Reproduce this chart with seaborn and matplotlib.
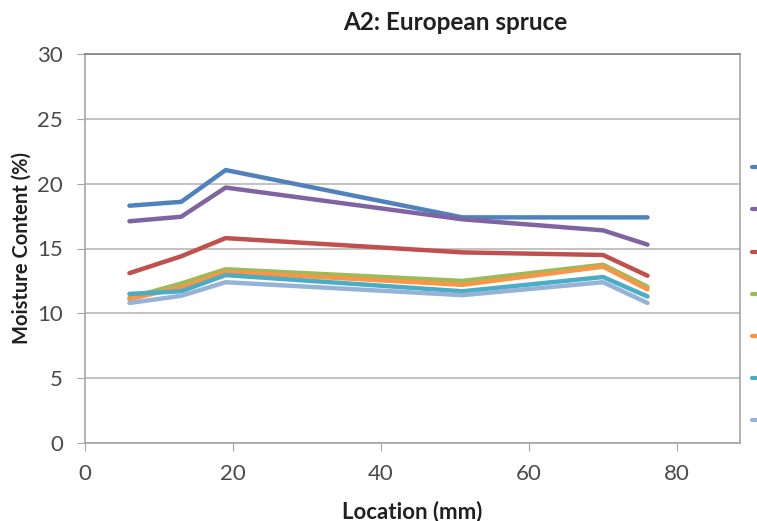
import pandas as pd
import matplotlib
matplotlib.use("Agg")
import matplotlib.pyplot as plt
import seaborn as sns
from matplotlib.lines import Line2D

# measurement locations (mm)
location = [6, 13, 19, 51, 70, 76]

# moisture content (%) per series, legend order top to bottom
s1 = [18.3, 18.6, 21.05, 17.4, 17.4, 17.4]
s2 = [17.1, 17.45, 19.7, 17.25, 16.4, 15.3]
s3 = [13.1, 14.4, 15.8, 14.7, 14.5, 12.9]
s4 = [11.2, 12.3, 13.4, 12.5, 13.75, 12.05]
s5 = [11.1, 12.0, 13.2, 12.2, 13.6, 11.85]
s6 = [11.5, 11.7, 12.95, 11.7, 12.8, 11.3]
s7 = [10.8, 11.35, 12.4, 11.4, 12.4, 10.8]

series = ["s1", "s2", "s3", "s4", "s5", "s6", "s7"]
values = [s1, s2, s3, s4, s5, s6, s7]
colors = ["#4F81BD", "#8064A2", "#C0504D", "#9BBB59", "#F79646", "#4BACC6", "#95B3D7"]

rows = []
for name, vals in zip(series, values):
    for x, y in zip(location, vals):
        rows.append({"series": name, "location": x, "mc": y})
df = pd.DataFrame(rows)

sns.set_style("white")
plt.rcParams["font.family"] = ["Lato", "DejaVu Sans"]

fig = plt.figure(figsize=(7.57, 5.21), dpi=100)
ax = fig.add_axes([85 / 757, 1 - 443 / 521, (740 - 85) / 757, (443 - 54) / 521])

sns.lineplot(data=df, x="location", y="mc", hue="series", hue_order=series,
             palette=colors, linewidth=3.2, legend=False, ax=ax, zorder=3)

ax.set_xlim(0, 88.5)
ax.set_ylim(0, 30)
ax.set_xticks([0, 20, 40, 60, 80])
ax.set_yticks([0, 5, 10, 15, 20, 25, 30])
ax.yaxis.grid(True, color="#B8B8B8", linewidth=1.2)
ax.xaxis.grid(False)

for side in ["left", "bottom", "right"]:
    ax.spines[side].set_color("#A6A6A6")
    ax.spines[side].set_linewidth(1.2)
ax.spines["top"].set_color("#7F7F7F")
ax.spines["top"].set_linewidth(1.2)

ax.tick_params(axis="both", which="major", direction="out", length=6,
               color="#A6A6A6", labelsize=16, labelcolor="#4A4A4A")
ax.tick_params(axis="x", bottom=True, pad=9)
ax.tick_params(axis="y", left=True, pad=10)

ax.set_xlabel("Location (mm)", fontsize=16, fontweight="bold", color="#202020", labelpad=12)
ax.set_ylabel("Moisture Content (%)", fontsize=14.5, fontweight="bold", color="#202020", labelpad=4)

fig.text(455 / 757, 1 - 22 / 521, "A2: European spruce", ha="center", va="center",
         fontsize=17.5, fontweight="bold", color="#202020")

# legend runs off the right edge, only its markers show
handles = [Line2D([0], [0], color=c, linewidth=3) for c in colors]
fig.legend(handles, [""] * len(handles), loc="center left",
           bbox_to_anchor=(752 / 757, 1 - 294.5 / 521), bbox_transform=fig.transFigure,
           frameon=False, handlelength=1, borderpad=0, borderaxespad=0,
           labelspacing=2.17, fontsize=10)

fig.savefig("out.png", dpi=100)
